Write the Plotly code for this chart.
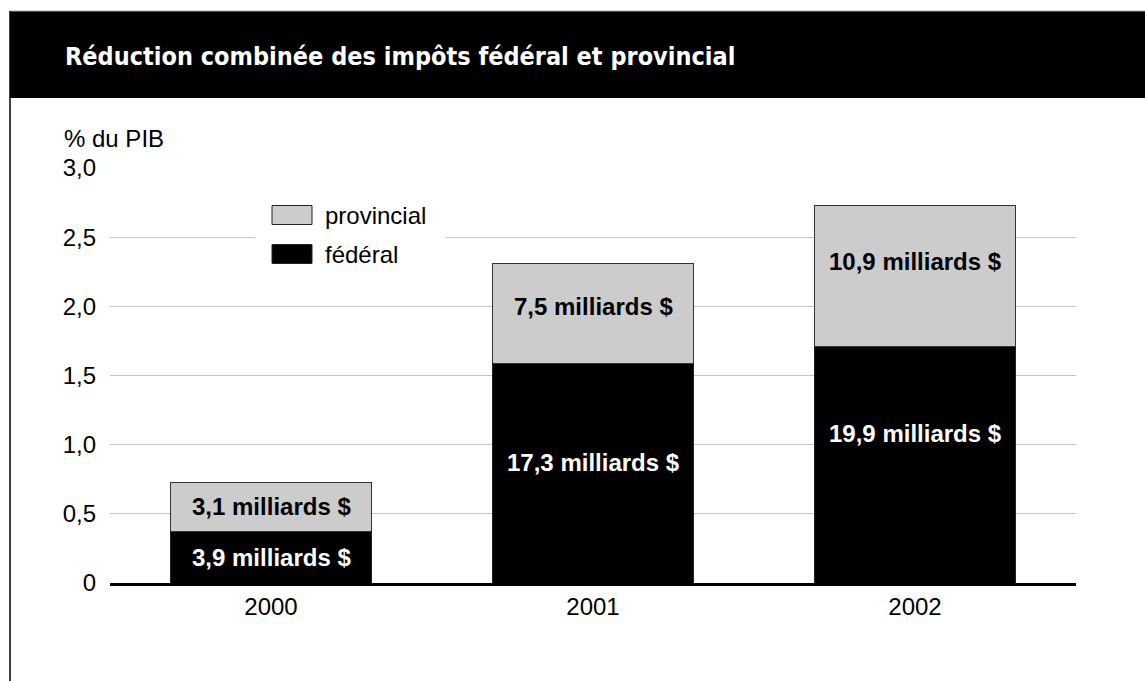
import plotly.graph_objects as go

# Data: share of GDP (%) per year, with the amount in billions shown on each segment
years = ["2000", "2001", "2002"]
federal = [0.37, 1.59, 1.71]
provincial = [0.36, 0.72, 1.02]
federal_labels = ["3,9 milliards $", "17,3 milliards $", "19,9 milliards $"]
provincial_labels = ["3,1 milliards $", "7,5 milliards $", "10,9 milliards $"]
series_names = ["fédéral", "provincial"]
y_tickvals = [0, 0.5, 1.0, 1.5, 2.0, 2.5, 3.0]
y_ticktext = ["0", "0,5", "1,0", "1,5", "2,0", "2,5", "3,0"]

title = "Réduction combinée des impôts fédéral et provincial"
y_unit = "% du PIB"

W, H = 1145, 681
L, R, T, B = 110, 69, 168, 98
PW, PH = W - L - R, H - T - B

FED_COLOR = "#000000"
PROV_COLOR = "#cccccc"
BODY_FONT = "Liberation Sans, Arial, Helvetica, sans-serif"
TITLE_FONT = "Liberation Sans Narrow, DejaVu Sans Condensed, Arial Narrow, sans-serif"
FS = 24


def px(x):
    """Convert a horizontal pixel position into paper coordinates."""
    return (x - L) / PW


def py(y):
    """Convert a vertical pixel position (from top) into paper coordinates."""
    return (H - B - y) / PH


fig = go.Figure()
fig.add_trace(go.Bar(
    x=years, y=federal, name=series_names[0],
    marker=dict(color=FED_COLOR, line=dict(color="#222222", width=1)),
    showlegend=False, hoverinfo="skip",
))
fig.add_trace(go.Bar(
    x=years, y=provincial, name=series_names[1],
    marker=dict(color=PROV_COLOR, line=dict(color="#333333", width=1)),
    showlegend=False, hoverinfo="skip",
))

# Segment labels, placed part-way up each segment (x given as category index)
fed_pos = [0.5, 0.55, 0.63]
prov_pos = [0.5, 0.57, 0.6]
annotations = []
for i in range(len(years)):
    annotations.append(dict(
        x=i, y=federal[i] * fed_pos[i], xref="x", yref="y",
        text=f"<b>{federal_labels[i]}</b>", showarrow=False,
        font=dict(family=BODY_FONT, size=FS, color="white"),
    ))
    annotations.append(dict(
        x=i, y=federal[i] + provincial[i] * prov_pos[i], xref="x", yref="y",
        text=f"<b>{provincial_labels[i]}</b>", showarrow=False,
        font=dict(family=BODY_FONT, size=FS, color="black"),
    ))

# Title in the black header band
annotations.append(dict(
    x=px(63), y=py(56), xref="paper", yref="paper",
    xanchor="left", yanchor="middle", showarrow=False,
    text=f"<b>{title}</b>",
    font=dict(family=TITLE_FONT, size=25, color="white"),
))
# Unit label above the y axis
annotations.append(dict(
    x=px(62), y=py(138), xref="paper", yref="paper",
    xanchor="left", yanchor="middle", showarrow=False,
    text=y_unit, font=dict(family=BODY_FONT, size=FS, color="black"),
))

shapes = [
    # header band
    dict(type="rect", xref="paper", yref="paper", layer="above",
         x0=px(10), x1=px(W + 5), y0=py(98), y1=py(11),
         fillcolor="black", line=dict(width=0)),
    # thin grey rule above the header
    dict(type="line", xref="paper", yref="paper",
         x0=px(10), x1=px(W + 5), y0=py(11), y1=py(11),
         line=dict(color="#aaaaaa", width=1)),
    # left frame edge
    dict(type="line", xref="paper", yref="paper",
         x0=px(10), x1=px(10), y0=py(11), y1=py(H + 5),
         line=dict(color="black", width=1.5)),
    # legend background box
    dict(type="rect", xref="paper", yref="paper", layer="above",
         x0=px(255), x1=px(446), y0=py(275), y1=py(195),
         fillcolor="white", line=dict(width=0)),
]

# Legend: provincial first, then federal
legend_items = [(series_names[1], PROV_COLOR, 215), (series_names[0], FED_COLOR, 254)]
for name, color, yc in legend_items:
    shapes.append(dict(
        type="rect", xref="paper", yref="paper", layer="above",
        x0=px(272), x1=px(312), y0=py(yc + 9.5), y1=py(yc - 9.5),
        fillcolor=color, line=dict(color="#222222", width=1),
    ))
    annotations.append(dict(
        x=px(323), y=py(yc), xref="paper", yref="paper",
        xanchor="left", yanchor="middle", showarrow=False,
        text=name, font=dict(family=BODY_FONT, size=FS, color="black"),
    ))

fig.update_layout(
    width=W, height=H,
    margin=dict(l=L, r=R, t=T, b=B, pad=0),
    paper_bgcolor="white", plot_bgcolor="white",
    barmode="stack", bargap=0.373,
    font=dict(family=BODY_FONT, size=FS, color="black"),
    showlegend=False,
    xaxis=dict(
        type="category", range=[-0.5, len(years) - 0.5],
        showgrid=False, showline=True, linecolor="black", linewidth=3,
        ticks="", tickfont=dict(size=FS), ticklabelstandoff=0,
        fixedrange=True,
    ),
    yaxis=dict(
        range=[0, 3.0], tickvals=y_tickvals, ticktext=y_ticktext,
        showgrid=True, gridcolor="#c4c4c4", gridwidth=1,
        zeroline=False, showline=False, ticks="",
        ticklabelstandoff=13, tickfont=dict(size=FS),
        fixedrange=True,
    ),
    shapes=shapes,
    annotations=annotations,
)

fig.write_html("out.html", config={"displayModeBar": False})
